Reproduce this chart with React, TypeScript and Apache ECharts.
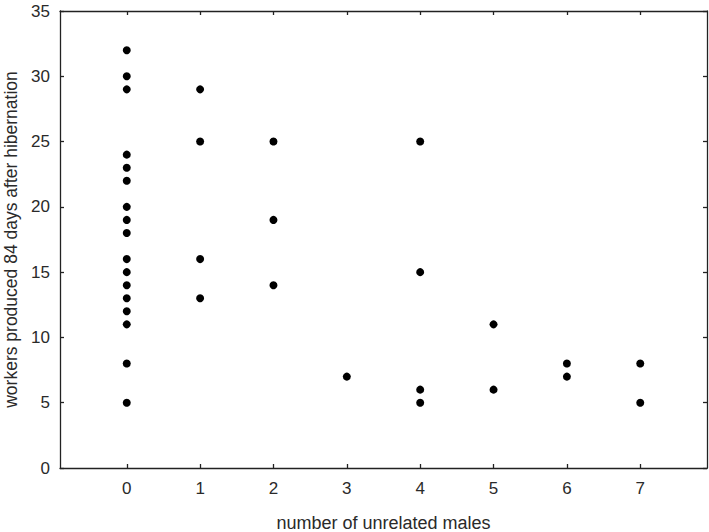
import React, { useEffect, useRef } from "react";
import * as echarts from "echarts";

const males0 = [32, 30, 29, 24, 23, 22, 20, 19, 18, 16, 15, 14, 13, 12, 11, 8, 5];
const males1 = [29, 25, 16, 13];
const males2 = [25, 19, 14];
const males3 = [7];
const males4 = [25, 15, 6, 5];
const males5 = [11, 6];
const males6 = [8, 7];
const males7 = [8, 5];
const groups = [males0, males1, males2, males3, males4, males5, males6, males7];
const xTicks = [0, 1, 2, 3, 4, 5, 6, 7];
const xTitle = "number of unrelated males";
const yTitle = "workers produced 84 days after hibernation";

export default function App() {
  const ref = useRef<HTMLDivElement>(null);
  useEffect(() => {
    if (!ref.current) return;
    const chart = echarts.init(ref.current, undefined, { renderer: "svg" });
    const data: number[][] = [];
    groups.forEach((g, i) => g.forEach((v) => data.push([i, v])));
    const font = "'Liberation Sans', Arial, sans-serif";
    const lineStyle = { color: "#222", width: 1.3 };
    const txt = "#2a2a2a";
    chart.setOption({
      animation: false,
      backgroundColor: "#fff",
      grid: { left: 60, top: 11, right: 2, bottom: 64, containLabel: false, outerBoundsMode: "none" },
      xAxis: [
        {
          type: "value",
          min: -0.91,
          max: 7.91,
          position: "bottom",
          name: xTitle,
          nameLocation: "middle",
          nameGap: 46,
          nameTextStyle: { fontFamily: font, fontSize: 18, color: txt },
          axisLine: { show: true, onZero: false, lineStyle },
          axisTick: { show: true, inside: true, length: 4, lineStyle, customValues: xTicks },
          axisLabel: { show: true, customValues: xTicks, fontFamily: font, fontSize: 17, color: txt, margin: 12 },
          splitLine: { show: false },
        },
        {
          type: "value",
          min: -0.91,
          max: 7.91,
          position: "top",
          axisLine: { show: true, onZero: false, lineStyle },
          axisTick: { show: true, inside: true, length: 4, lineStyle, customValues: xTicks },
          axisLabel: { show: false },
          splitLine: { show: false },
        },
      ],
      yAxis: [
        {
          type: "value",
          min: 0,
          max: 35,
          interval: 5,
          position: "left",
          name: yTitle,
          nameLocation: "middle",
          nameGap: 39,
          nameTextStyle: { fontFamily: font, fontSize: 17.5, color: txt },
          axisLine: { show: true, onZero: false, lineStyle },
          axisTick: { show: true, inside: true, length: 4, lineStyle },
          axisLabel: { fontFamily: font, fontSize: 17, color: txt, margin: 10 },
          splitLine: { show: false },
        },
        {
          type: "value",
          min: 0,
          max: 35,
          interval: 5,
          position: "right",
          axisLine: { show: true, onZero: false, lineStyle },
          axisTick: { show: true, inside: true, length: 4, lineStyle },
          axisLabel: { show: false },
          splitLine: { show: false },
        },
      ],
      series: [
        {
          type: "scatter",
          xAxisIndex: 0,
          yAxisIndex: 0,
          data,
          symbol: "circle",
          symbolSize: 8,
          itemStyle: { color: "#000", opacity: 1 },
        },
      ],
    });
    return () => chart.dispose();
  }, []);
  return <div ref={ref} style={{ width: 709, height: 532, position: "absolute", left: 0, top: 0 }} />;
}
